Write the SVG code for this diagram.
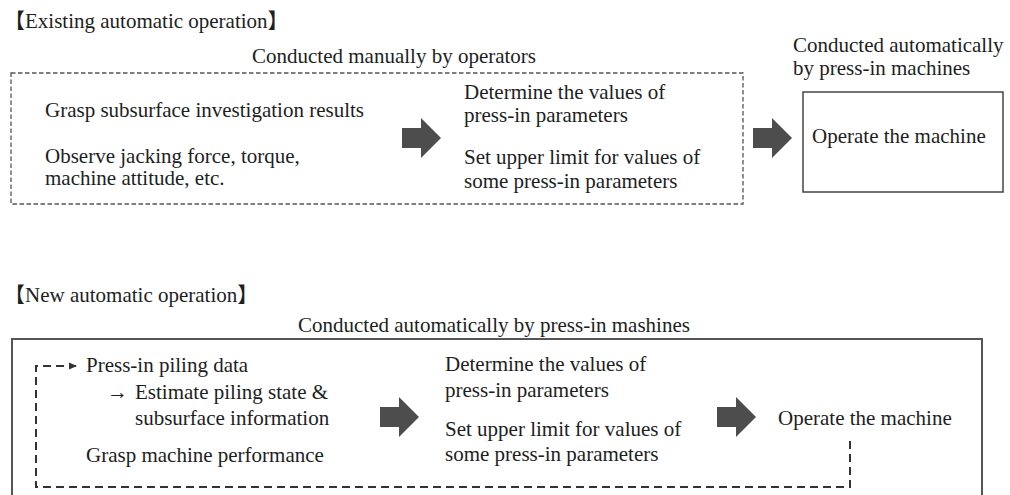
<svg xmlns="http://www.w3.org/2000/svg" width="1010" height="495" viewBox="0 0 1010 495">
<style>
.dbox{fill:none;stroke:#555;stroke-width:1.3;stroke-dasharray:4.5 2.5}
.sbox{fill:none;stroke:#444;stroke-width:1.5}
.obox{fill:none;stroke:#555;stroke-width:2}
.loop{fill:none;stroke:#333;stroke-width:2;stroke-dasharray:8 5}
.bigarrow{fill:#4d4d4d}
</style>
<defs>
<marker id="ah" markerWidth="8" markerHeight="8" refX="7" refY="4" orient="auto" markerUnits="userSpaceOnUse">
<path d="M0,0.5 L8,4 L0,7.5 z" fill="#333"/>
</marker>
<path id="fat" d="M0,10 H19 V0 L39,20 L19,40 V30 H0 z"/>
</defs>
<rect width="1010" height="495" fill="#fff"/>

<g font-family="Liberation Serif, Noto Sans CJK JP, serif" font-size="21" fill="#1e1e1e">
<g id="existing-title">
<text x="4" y="28">【Existing automatic operation】</text>
</g>
<g id="manual-group">
<rect class="dbox" x="11" y="73" width="732" height="131"/>
<text x="252" y="63">Conducted manually by operators</text>
</g>
<g id="node-grasp">
<text x="45" y="117">Grasp subsurface investigation results</text>
<text x="45" y="163">Observe jacking force, torque,</text>
<text x="45" y="185">machine attitude, etc.</text>
</g>
<g id="node-determine-1">
<text x="464" y="99">Determine the values of</text>
<text x="464" y="122">press-in parameters</text>
<text x="464" y="164">Set upper limit for values of</text>
<text x="464" y="188">some press-in parameters</text>
</g>
<g id="node-operate-1">
<text x="793" y="52">Conducted automatically</text>
<text x="793" y="75">by press-in machines</text>
<rect class="sbox" x="803" y="92" width="200" height="100"/>
<text x="812" y="143">Operate the machine</text>
</g>

<g id="new-title">
<text x="4" y="302">【New automatic operation】</text>
</g>
<g id="auto-group">
<rect class="obox" x="12" y="339" width="970" height="170"/>
<text x="298" y="332">Conducted automatically by press-in mashines</text>
</g>
<g id="node-data">
<text x="86" y="372">Press-in piling data</text>
<text x="107" y="399">→</text>
<text x="135" y="399">Estimate piling state &amp;</text>
<text x="135" y="425">subsurface information</text>
<text x="86" y="462">Grasp machine performance</text>
</g>
<g id="node-determine-2">
<text x="445" y="371">Determine the values of</text>
<text x="445" y="397">press-in parameters</text>
<text x="445" y="436">Set upper limit for values of</text>
<text x="445" y="461">some press-in parameters</text>
</g>
<g id="node-operate-2">
<text x="778" y="425">Operate the machine</text>
</g>
</g>

<g id="connectors">
<use href="#fat" class="bigarrow" x="402" y="118"/>
<use href="#fat" class="bigarrow" x="753" y="118"/>
<use href="#fat" class="bigarrow" x="380" y="397"/>
<use href="#fat" class="bigarrow" x="717" y="397"/>
<path class="loop" d="M850,441 V487 H36 V366 H76" marker-end="url(#ah)"/>
</g>
</svg>
